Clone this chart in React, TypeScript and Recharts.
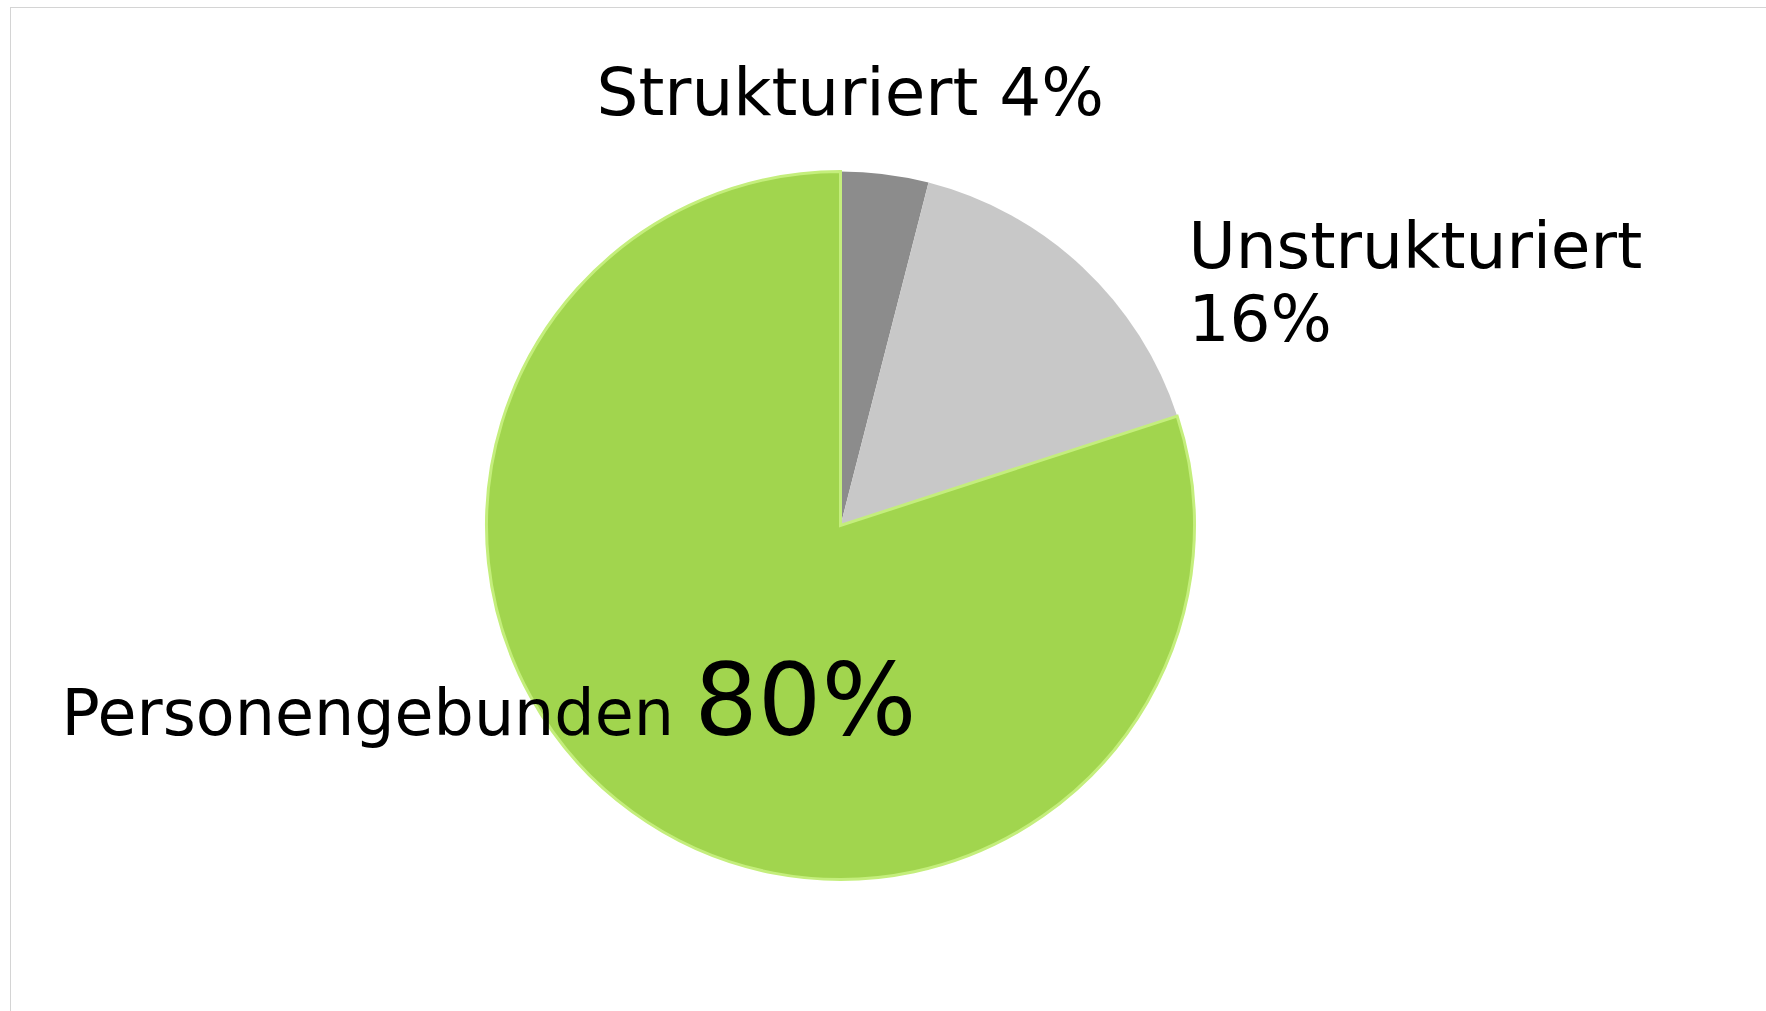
import React from 'react';
import { PieChart, Pie, Cell } from 'recharts';

const names = ['Strukturiert', 'Unstrukturiert', 'Personengebunden'];
const shares = [4, 16, 80];
const colors = ['#8c8c8c', '#c8c8c8', '#a1d54e'];

const chartData = names.map((name, i) => ({ name, value: shares[i] }));

const FONT = '"DejaVu Sans", Verdana, sans-serif';

const renderLabel = (props: any) => {
  const { cx, cy, index, value, name } = props;
  if (index === 0) {
    return (
      <text x={cx - 244} y={cy - 411} fontSize={66} fontFamily={FONT} fill="#000">
        {name} {value}%
      </text>
    );
  }
  if (index === 1) {
    return (
      <text x={cx + 348} y={cy - 258} fontSize={64.5} fontFamily={FONT} fill="#000">
        <tspan x={cx + 348}>{name}</tspan>
        <tspan x={cx + 348} dy={73}>{value}%</tspan>
      </text>
    );
  }
  return (
    <text x={cx - 779} y={cy + 209} fontFamily={FONT} fill="#000">
      <tspan fontSize={63.5}>{name} </tspan>
      <tspan fontSize={100}>{value}%</tspan>
    </text>
  );
};

const App: React.FC = () => {
  return (
    <div style={{ position: 'absolute', left: 0, top: 0, width: 1766, height: 1011, background: '#fff' }}>
      <div
        style={{
          position: 'absolute',
          left: 10,
          top: 7,
          width: 1756,
          height: 1004,
          borderLeft: '1px solid #d4d4d4',
          borderTop: '1px solid #d4d4d4',
        }}
      />
      <div style={{ position: 'absolute', left: 0, top: 0 }}>
        <PieChart width={1766} height={1011}>
          <Pie
            data={chartData}
            dataKey="value"
            nameKey="name"
            cx={835.5}
            cy={520.5}
            outerRadius={354}
            startAngle={90}
            endAngle={-270}
            label={renderLabel}
            labelLine={false}
            stroke="none"
            isAnimationActive={false}
          >
            {chartData.map((d, i) => (
              <Cell
                key={d.name}
                fill={colors[i]}
                stroke={i === 2 ? '#c4ee7c' : 'none'}
                strokeWidth={i === 2 ? 3 : 0}
              />
            ))}
          </Pie>
        </PieChart>
      </div>
    </div>
  );
};

export default App;
